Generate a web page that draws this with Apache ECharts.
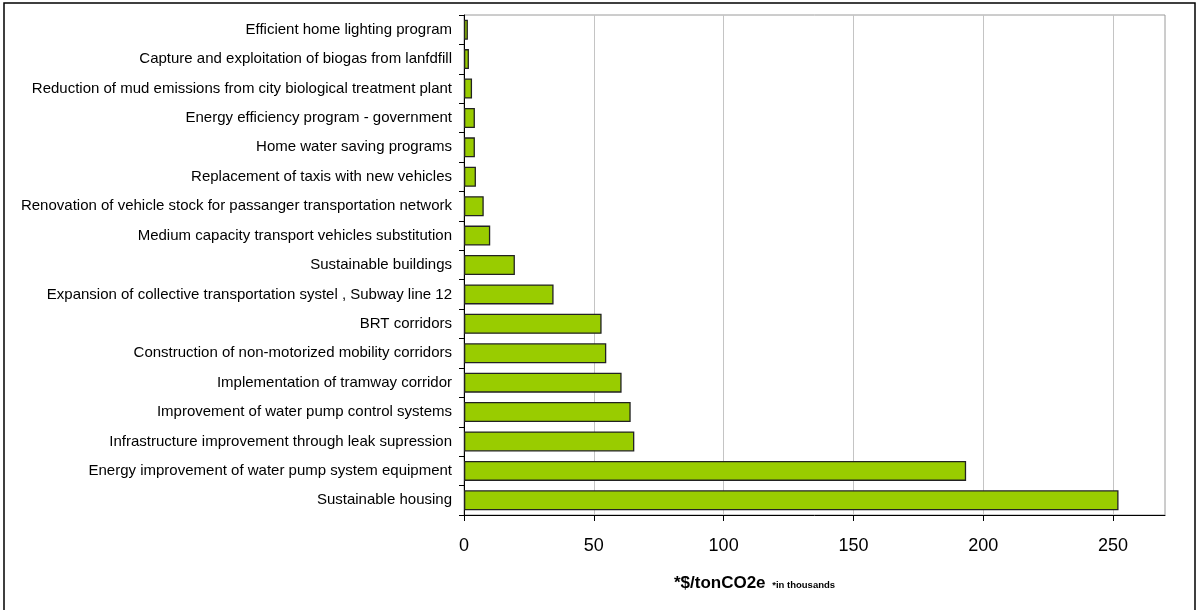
<!DOCTYPE html>
<html>
<head>
<meta charset="utf-8">
<script src="https://cdn.jsdelivr.net/npm/echarts@6/dist/echarts.min.js"></script>
<style>
  html, body { margin: 0; padding: 0; background: #fff; }
  #chart { width: 1197px; height: 610px; }
</style>
</head>
<body>
<div id="chart"></div>
<script>
// Mitigation actions, listed top to bottom
const categories = [
  'Efficient home lighting program',
  'Capture and exploitation of biogas from lanfdfill',
  'Reduction of mud emissions from city biological treatment plant',
  'Energy efficiency program - government',
  'Home water saving programs',
  'Replacement of taxis with new vehicles',
  'Renovation of vehicle stock for passanger transportation network',
  'Medium capacity transport vehicles substitution',
  'Sustainable buildings',
  'Expansion of collective transportation systel , Subway line 12',
  'BRT corridors',
  'Construction of non-motorized mobility corridors',
  'Implementation of tramway corridor',
  'Improvement of water pump control systems',
  'Infrastructure improvement through leak supression',
  'Energy improvement of water pump system equipment',
  'Sustainable housing'
];

// Cost per ton CO2e (in thousands)
const costValues = [1.5, 1.9, 3.1, 4.2, 4.2, 4.6, 7.6, 10.1, 19.6, 34.5, 53.0, 54.8, 60.7, 64.2, 65.6, 193.4, 252.1];

// Value axis ticks
const xTicks = [0, 50, 100, 150, 200, 250];
const xMax = 270;

const chart = echarts.init(document.getElementById('chart'));

chart.setOption({
  animation: false,
  textStyle: { fontFamily: 'Liberation Sans, Arial, sans-serif' },
  grid: {
    left: 464, right: 32, top: 15, bottom: 95,
    show: true, borderColor: '#9a9a9a', borderWidth: 1
  },
  graphic: [{
    type: 'rect',
    shape: { x: 4, y: 3, width: 1191, height: 640 },
    style: { fill: 'none', stroke: '#000', lineWidth: 1.5 },
    silent: true
  }],
  xAxis: {
    type: 'value',
    min: 0, max: xMax, interval: 50,
    axisLine: { show: true, lineStyle: { color: '#000', width: 1 } },
    axisTick: { show: true, length: 6, inside: false, lineStyle: { color: '#000' }, customValues: xTicks },
    axisLabel: { color: '#000', fontSize: 18, margin: 22, customValues: xTicks },
    splitLine: { show: true, lineStyle: { color: '#c4c4c4', width: 1 } },
    name: '{a|*$/tonCO2e}  {b|*in thousands}',
    nameLocation: 'middle',
    nameGap: 60,
    nameTextStyle: {
      padding: [0, 120, 0, 0],
      rich: {
        a: { fontSize: 17, fontWeight: 'bold', color: '#000', fontFamily: 'Liberation Sans, Arial, sans-serif' },
        b: { fontSize: 9.5, fontWeight: 'bold', color: '#000', fontFamily: 'Liberation Sans, Arial, sans-serif', padding: [4, 0, 0, 0] }
      }
    }
  },
  yAxis: {
    type: 'category',
    inverse: true,
    data: categories,
    axisLine: { show: true, lineStyle: { color: '#000', width: 1 } },
    axisTick: { show: true, length: 5, lineStyle: { color: '#000' } },
    axisLabel: { color: '#000', fontSize: 15, margin: 12 },
    splitLine: { show: false }
  },
  series: [{
    type: 'bar',
    data: costValues,
    barCategoryGap: '32%',
    itemStyle: { color: '#99cc00', borderColor: '#222', borderWidth: 1.3 }
  }]
});
</script>
</body>
</html>
